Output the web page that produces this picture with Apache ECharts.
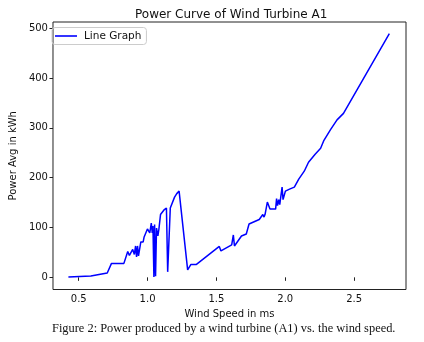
<!DOCTYPE html>
<html><head><meta charset="utf-8">
<script src="https://cdn.jsdelivr.net/npm/echarts@6/dist/echarts.min.js"></script>
<style>html,body{margin:0;padding:0;background:#fff}#c{width:424px;height:342px}</style>
</head><body><div id="c"></div>
<script>
const windSpeed = [0.425,0.588,0.592,0.707,0.738,0.828,0.856,0.868,0.892,0.904,0.913,0.920,0.927,0.934,0.951,0.968,0.975,0.987,0.999,1.011,1.016,1.027,1.034,1.039,1.046,1.051,1.058,1.065,1.075,1.082,1.094,1.122,1.137,1.146,1.165,1.196,1.212,1.229,1.291,1.315,1.355,1.521,1.533,1.611,1.623,1.631,1.682,1.717,1.737,1.811,1.837,1.846,1.853,1.870,1.889,1.930,1.937,1.944,1.953,1.960,1.977,1.984,2.001,2.031,2.066,2.079,2.098,2.138,2.169,2.217,2.226,2.257,2.281,2.330,2.376,2.423,2.756];
const powerAvg  = [0.6,2.6,0.5,8.7,28,28,52,44,56,46,63,41,63,43,71,71,81,81,97,99,89,109,89,103,0.6,106,2,99,83,96,126,136,139,11,139,161,168,173,15,26,26,62,53,65,85,63,83,87,107,116,126,121,126,151,137,137,158,144,156,146,181,156,173,177,181,177,197,213,231,247,244,259,275,297,316,329,489];
const xTicks = [0.5,1.0,1.5,2.0,2.5];
const yTicks = [0,100,200,300,400,500];

const chart = echarts.init(document.getElementById('c'), null, {renderer:'canvas'});
const font = 'DejaVu Sans';
chart.setOption({
  animation:false,
  title:{text:'Power Curve of Wind Turbine A1',left:130,top:4,
    textStyle:{fontFamily:font,fontSize:12,fontWeight:'normal',color:'#111'}},
  grid:{left:47,top:22,right:18,bottom:52.5,show:true,borderColor:'#222',borderWidth:1,backgroundColor:'transparent'},
  legend:{left:52,top:27.5,orient:'vertical',itemWidth:22,itemHeight:1.6,itemGap:4,
    borderColor:'#ccc',borderWidth:1,borderRadius:3,padding:[3,5,3,3],
    textStyle:{fontFamily:font,fontSize:10.5,color:'#111',padding:[0,0,0,2]},
    data:[{name:'Line Graph',icon:'rect'}]},
  xAxis:{type:'value',min:0.313,max:2.877,name:'Wind Speed in ms',nameLocation:'middle',nameGap:18,
    nameTextStyle:{fontFamily:font,fontSize:10,color:'#111'},
    axisLine:{show:false},splitLine:{show:false},
    axisTick:{show:true,length:3.5,lineStyle:{color:'#222'},customValues:xTicks},
    axisLabel:{fontFamily:font,fontSize:10,color:'#111',margin:5,customValues:xTicks,formatter:v=>v.toFixed(1)}},
  yAxis:{type:'value',min:-24.4,max:512.4,name:'Power Avg in kWh',nameLocation:'middle',nameGap:34,
    nameTextStyle:{fontFamily:font,fontSize:10,color:'#111'},
    axisLine:{show:false},splitLine:{show:false},
    axisTick:{show:true,length:3.5,lineStyle:{color:'#222'},customValues:yTicks},
    axisLabel:{fontFamily:font,fontSize:10,color:'#111',margin:5,customValues:yTicks}},
  series:[{name:'Line Graph',type:'line',symbol:'none',
    lineStyle:{color:'#0000ff',width:1.5},itemStyle:{color:'#0000ff'},
    data:windSpeed.map((x,i)=>[x,powerAvg[i]])}],
  graphic:[{type:'text',left:52,top:323,
    style:{text:'Figure 2: Power produced by a wind turbine (A1) vs. the wind speed.',
      font:'12.4px "Liberation Serif"',fill:'#111'}}]
});
</script></body></html>
